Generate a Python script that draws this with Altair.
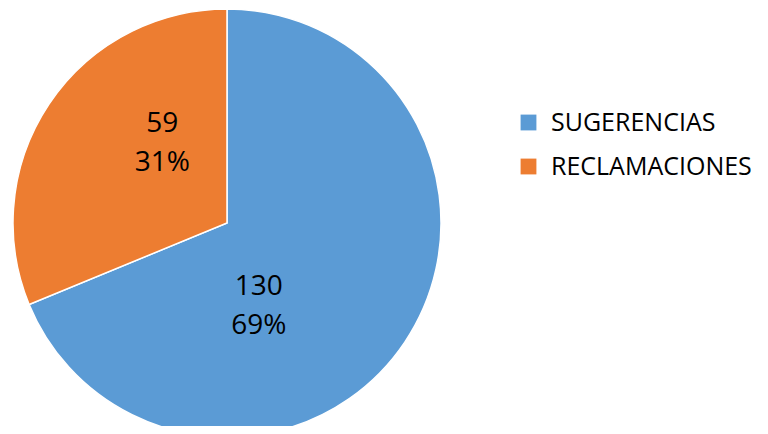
import altair as alt
import pandas as pd

categories = ["SUGERENCIAS", "RECLAMACIONES"]
values = [130, 59]
colors = ["#5B9BD5", "#ED7D31"]

total = sum(values)
df = pd.DataFrame({
    "cat": categories,
    "value": values,
    "idx": list(range(len(categories))),
})

pie = alt.Chart(df).mark_arc(outerRadius=214, stroke="white", strokeWidth=1.5).encode(
    theta=alt.Theta("value:Q", stack=True),
    order=alt.Order("idx:Q"),
    x=alt.value(219),
    y=alt.value(215),
    color=alt.Color(
        "cat:N",
        scale=alt.Scale(domain=categories, range=colors),
        legend=alt.Legend(
            title=None,
            orient="none",
            legendX=508,
            legendY=102,
            symbolType="square",
            symbolSize=250,
            symbolStrokeWidth=0,
            labelFont="Open Sans",
            labelFontSize=25,
            labelColor="#000000",
            labelOffset=10,
            rowPadding=18,
            labelLimit=400,
        ),
    ),
)

def label_layer(cat, dx, dy):
    return alt.Chart(df).transform_window(
        cum="sum(value)", sort=[alt.SortField("idx")]
    ).transform_calculate(
        mid="datum.cum - datum.value / 2",
        lab="datum.value + '\\n' + format(datum.value / " + str(total) + ", '.0%')",
    ).transform_filter(
        alt.datum.cat == cat
    ).mark_text(
        radius=90, font="Open Sans", fontSize=28, color="#000000",
        lineBreak="\n", lineHeight=39, align="center", baseline="middle",
        dx=dx, dy=dy,
    ).encode(
        theta=alt.Theta("mid:Q", stack=None,
                        scale=alt.Scale(domain=[0, total], range=[0, 6.283185307])),
        x=alt.value(219),
        y=alt.value(215),
        text="lab:N",
    )

chart = alt.layer(
    pie,
    label_layer("SUGERENCIAS", -43, 14),
    label_layer("RECLAMACIONES", 10, -49),
).resolve_scale(theta="independent").properties(
    width=752, height=418, padding=0, autosize="none"
).configure_view(stroke=None)

chart.save("out.html", embed_options={"renderer": "svg", "actions": False})
